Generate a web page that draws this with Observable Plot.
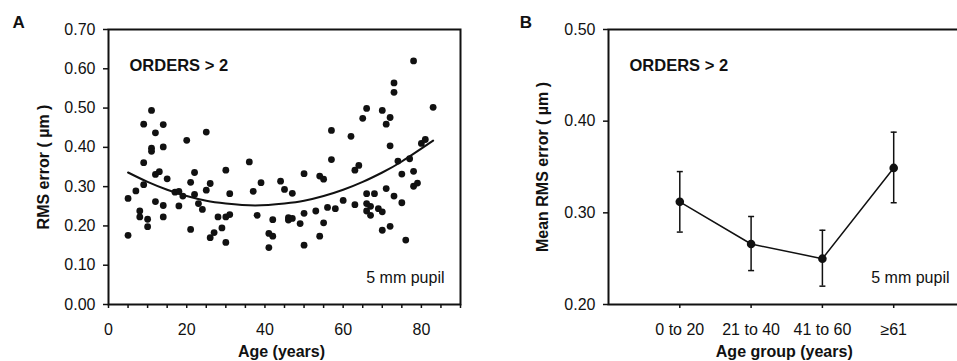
<!DOCTYPE html>
<html><head><meta charset="utf-8">
<script src="https://cdn.jsdelivr.net/npm/d3@7"></script>
<script src="https://cdn.jsdelivr.net/npm/@observablehq/plot@0.6"></script>
<style>
html,body{margin:0;padding:0;background:#fff;}
#wrap{position:relative;width:957px;height:361px;overflow:hidden;}
#a,#b{position:absolute;top:0;}
#a{left:0;width:480px;}
#b{left:480px;width:477px;}
svg{max-width:none !important;}
</style></head><body>
<div id="wrap"><div id="a"></div><div id="b"></div></div>
<script>
// Panel A: individual eyes
const ages = [5,5,7,8,8,9,9,9,10,10,11,11,11,12,12,12,13,14,14,14,14,15,17,18,18,19,20,21,21,22,22,23,24,25,25,26,26,27,28,29,30,30,30,31,31,36,37,38,39,41,41,42,42,44,45,46,46,47,47,49,50,50,50,53,54,54,55,55,56,57,57,58,60,62,63,63,64,65,66,66,66,66,67,67,68,69,70,70,70,71,71,72,72,72,73,73,73,74,75,75,76,77,78,78,78,79,80,81,83];
const rmsValues = [0.176,0.270,0.289,0.238,0.223,0.459,0.361,0.305,0.217,0.198,0.494,0.398,0.390,0.437,0.331,0.262,0.338,0.458,0.401,0.252,0.223,0.320,0.286,0.288,0.251,0.276,0.418,0.311,0.191,0.336,0.280,0.257,0.242,0.439,0.291,0.308,0.170,0.183,0.223,0.195,0.342,0.223,0.158,0.229,0.282,0.363,0.288,0.227,0.310,0.181,0.145,0.174,0.216,0.314,0.293,0.221,0.215,0.219,0.283,0.206,0.333,0.232,0.151,0.238,0.327,0.174,0.319,0.208,0.247,0.443,0.369,0.244,0.265,0.428,0.342,0.254,0.354,0.474,0.499,0.282,0.257,0.238,0.250,0.227,0.282,0.244,0.236,0.494,0.189,0.459,0.295,0.476,0.404,0.199,0.564,0.540,0.276,0.365,0.332,0.259,0.164,0.371,0.620,0.339,0.301,0.309,0.410,0.420,0.502];
// fitted curve
const fitAges = [5,10,15,20,25,30,37.5,45,50,55,60,65,70,75,83];
const fitValues = [0.336,0.312,0.292,0.276,0.264,0.257,0.252,0.257,0.264,0.276,0.292,0.312,0.336,0.364,0.417];
const xTicksA = [0,5,10,15,20,25,30,35,40,45,50,55,60,65,70,75,80,85,90];
const xLabelsA = [0,20,40,60,80];
const yTicksA = [0,0.1,0.2,0.3,0.4,0.5,0.6,0.7];

// Panel B: age-group means
const groups = ["0 to 20","21 to 40","41 to 60","≥61"];
const groupMeans = [0.312,0.266,0.250,0.349];
const groupLow = [0.279,0.237,0.220,0.311];
const groupHigh = [0.345,0.296,0.281,0.388];
const yTicksB = [0.2,0.3,0.4,0.5];

const FONT = "'Liberation Sans', Arial, Helvetica, sans-serif";
const baseStyle = {fontFamily: FONT, fontSize: "16px", color: "#111", background: "white", overflow: "hidden"};

// horizontal cap symbol for error bars
const capSymbol = {draw(context) { context.moveTo(-3, 0); context.lineTo(3, 0); }};

const scatter = ages.map((a, i) => ({age: a, rms: rmsValues[i]}));
const fit = fitAges.map((a, i) => ({age: a, rms: fitValues[i]}));

const A = Plot.plot({
  width: 480, height: 361,
  marginLeft: 108, marginRight: 20, marginTop: 29, marginBottom: 57,
  style: baseStyle,
  x: {domain: [0, 90]},
  y: {domain: [0, 0.7]},
  marks: [
    Plot.frame({stroke: "#111", strokeWidth: 2}),
    Plot.axisX({ticks: xTicksA, tickSize: 4, tickPadding: 15, strokeWidth: 1.5,
      tickFormat: d => xLabelsA.includes(d) ? String(d) : "", label: null}),
    Plot.axisY({ticks: yTicksA, tickSize: 5, tickPadding: 8, strokeWidth: 1.5,
      tickFormat: d => d.toFixed(2), label: null}),
    Plot.dot(scatter, {x: "age", y: "rms", r: 3.4, fill: "#111", stroke: "none"}),
    Plot.line(fit, {x: "age", y: "rms", curve: "natural", stroke: "#111", strokeWidth: 2}),
    Plot.text(["ORDERS > 2"], {text: d => d, frameAnchor: "top-left", dx: 21, dy: 30, lineAnchor: "top", textAnchor: "start", fontWeight: "bold", fontSize: 16.5}),
    Plot.text(["5 mm pupil"], {text: d => d, frameAnchor: "bottom-right", dx: -16, dy: -22, lineAnchor: "bottom", textAnchor: "end", fontSize: 16}),
    Plot.text(["RMS error ( µm )"], {text: d => d, frameAnchor: "left", dx: -65, rotate: -90, textAnchor: "middle", lineAnchor: "middle", fontWeight: "bold", fontSize: 16}),
    Plot.text(["Age (years)"], {text: d => d, frameAnchor: "bottom", dx: -3, dy: 52, lineAnchor: "bottom", fontWeight: "bold", fontSize: 16}),
    Plot.text(["A"], {text: d => d, frameAnchor: "top-left", dx: -96, dy: -2, lineAnchor: "bottom", textAnchor: "start", fontWeight: "bold", fontSize: 17})
  ]
});
document.getElementById("a").append(A);

const groupData = groups.map((g, i) => ({group: g, mean: groupMeans[i], low: groupLow[i], high: groupHigh[i]}));

const B = Plot.plot({
  width: 477, height: 361,
  marginLeft: 128, marginRight: -7.5, marginTop: 29, marginBottom: 57,
  style: baseStyle,
  x: {type: "point", domain: groups, padding: 1, round: false},
  y: {domain: [0.2, 0.5]},
  marks: [
    Plot.frame({stroke: "#111", strokeWidth: 2}),
    Plot.axisX({tickSize: 4, tickPadding: 15, strokeWidth: 1.5, label: null}),
    Plot.axisY({ticks: yTicksB, tickSize: 5, tickPadding: 8, strokeWidth: 1.5,
      tickFormat: d => d.toFixed(2), label: null}),
    Plot.ruleX(groupData, {x: "group", y1: "low", y2: "high", stroke: "#111", strokeWidth: 1.5}),
    Plot.dot(groupData, {x: "group", y: "low", symbol: capSymbol, fill: "none", stroke: "#111", strokeWidth: 1.5}),
    Plot.dot(groupData, {x: "group", y: "high", symbol: capSymbol, fill: "none", stroke: "#111", strokeWidth: 1.5}),
    Plot.line(groupData, {x: "group", y: "mean", stroke: "#111", strokeWidth: 1.5}),
    Plot.dot(groupData, {x: "group", y: "mean", r: 4.3, fill: "#111", stroke: "none"}),
    Plot.text(["ORDERS > 2"], {text: d => d, frameAnchor: "top-left", dx: 21, dy: 30, lineAnchor: "top", textAnchor: "start", fontWeight: "bold", fontSize: 16.5}),
    Plot.text(["5 mm pupil"], {text: d => d, frameAnchor: "bottom-right", dx: -15.5, dy: -22, lineAnchor: "bottom", textAnchor: "end", fontSize: 16}),
    Plot.text(["Mean RMS error ( µm )"], {text: d => d, frameAnchor: "left", dx: -66, rotate: -90, textAnchor: "middle", lineAnchor: "middle", fontWeight: "bold", fontSize: 16}),
    Plot.text(["Age group (years)"], {text: d => d, frameAnchor: "bottom", dx: -2.5, dy: 52, lineAnchor: "bottom", fontWeight: "bold", fontSize: 16}),
    Plot.text(["B"], {text: d => d, frameAnchor: "top-left", dx: -88.7, dy: -2, lineAnchor: "bottom", textAnchor: "start", fontWeight: "bold", fontSize: 17})
  ]
});
document.getElementById("b").append(B);
</script>
</body></html>
